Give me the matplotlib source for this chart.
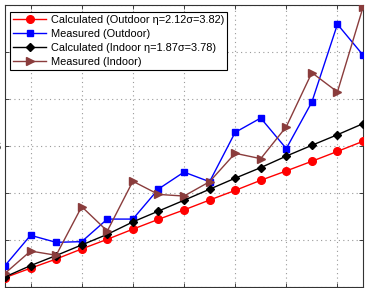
import matplotlib
matplotlib.use("Agg")
import matplotlib.pyplot as plt
import numpy as np

plt.rcParams['font.family'] = ['Liberation Sans', 'DejaVu Sans']

x = list(range(1, 16))
calc_outdoor = [0.40, 0.80, 1.19, 1.62, 2.03, 2.46, 2.88, 3.28, 3.70, 4.11, 4.54, 4.94, 5.35, 5.77, 6.20]
meas_outdoor = [0.91, 2.20, 1.90, 1.93, 2.89, 2.89, 4.17, 4.89, 4.48, 6.58, 7.19, 5.89, 7.87, 11.18, 9.87]
calc_indoor = [0.43, 0.91, 1.34, 1.79, 2.24, 2.77, 3.23, 3.69, 4.16, 4.63, 5.08, 5.57, 6.03, 6.48, 6.95]
meas_indoor = [0.58, 1.53, 1.35, 3.42, 2.38, 4.50, 3.94, 3.87, 4.48, 5.69, 5.46, 6.82, 9.12, 8.30, 11.90]

labels = ["Calculated (Outdoor \u03b7=2.12\u03c3=3.82)",
          "Measured (Outdoor)",
          "Calculated (Indoor \u03b7=1.87\u03c3=3.78)",
          "Measured (Indoor)"]
xticks = [2, 4, 6, 8, 10, 12, 14]
yticks = [0, 2, 4, 6, 8, 10, 12]

fig = plt.figure(figsize=(3.66, 2.88), dpi=100)
ax = fig.add_axes([5/366, 1/288, 358/366, 282/288])

brown = '#8a3c3c'
ax.plot(x, calc_outdoor, '-o', color='#ff0000', lw=1.0, ms=5.5, label=labels[0], zorder=3)
ax.plot(x, meas_outdoor, '-s', color='#0000ff', lw=1.0, ms=4.5, label=labels[1], zorder=3)
ax.plot(x, calc_indoor, '-D', color='black', lw=1.0, ms=4, label=labels[2], zorder=3)
ax.plot(x, meas_indoor, '->', color=brown, lw=1.0, ms=6, label=labels[3], zorder=3)

ax.set_xlim(1, 15)
ax.set_ylim(0, 12)
ax.set_xticks(xticks)
ax.set_yticks(yticks)
ax.set_xticklabels([])
ax.set_yticklabels([str(v) for v in yticks])
ax.tick_params(direction='in', top=True, right=True, length=3, width=0.6, labelsize=8, colors='#222222')
ax.grid(True, linestyle=(0, (1, 3)), color='#9a9a9a', linewidth=0.8)
for s in ax.spines.values():
    s.set_color('#333333')
    s.set_linewidth(0.8)

leg = ax.legend(loc='upper left', bbox_to_anchor=(5/358, 1 - 7/282), fontsize=7.9, frameon=True,
                fancybox=False, edgecolor='black', framealpha=1, handlelength=3.0,
                borderpad=0.3, labelspacing=0.35, handletextpad=0.4, borderaxespad=0.0)
leg.get_frame().set_linewidth(0.8)

fig.savefig('out.png', dpi=100)
